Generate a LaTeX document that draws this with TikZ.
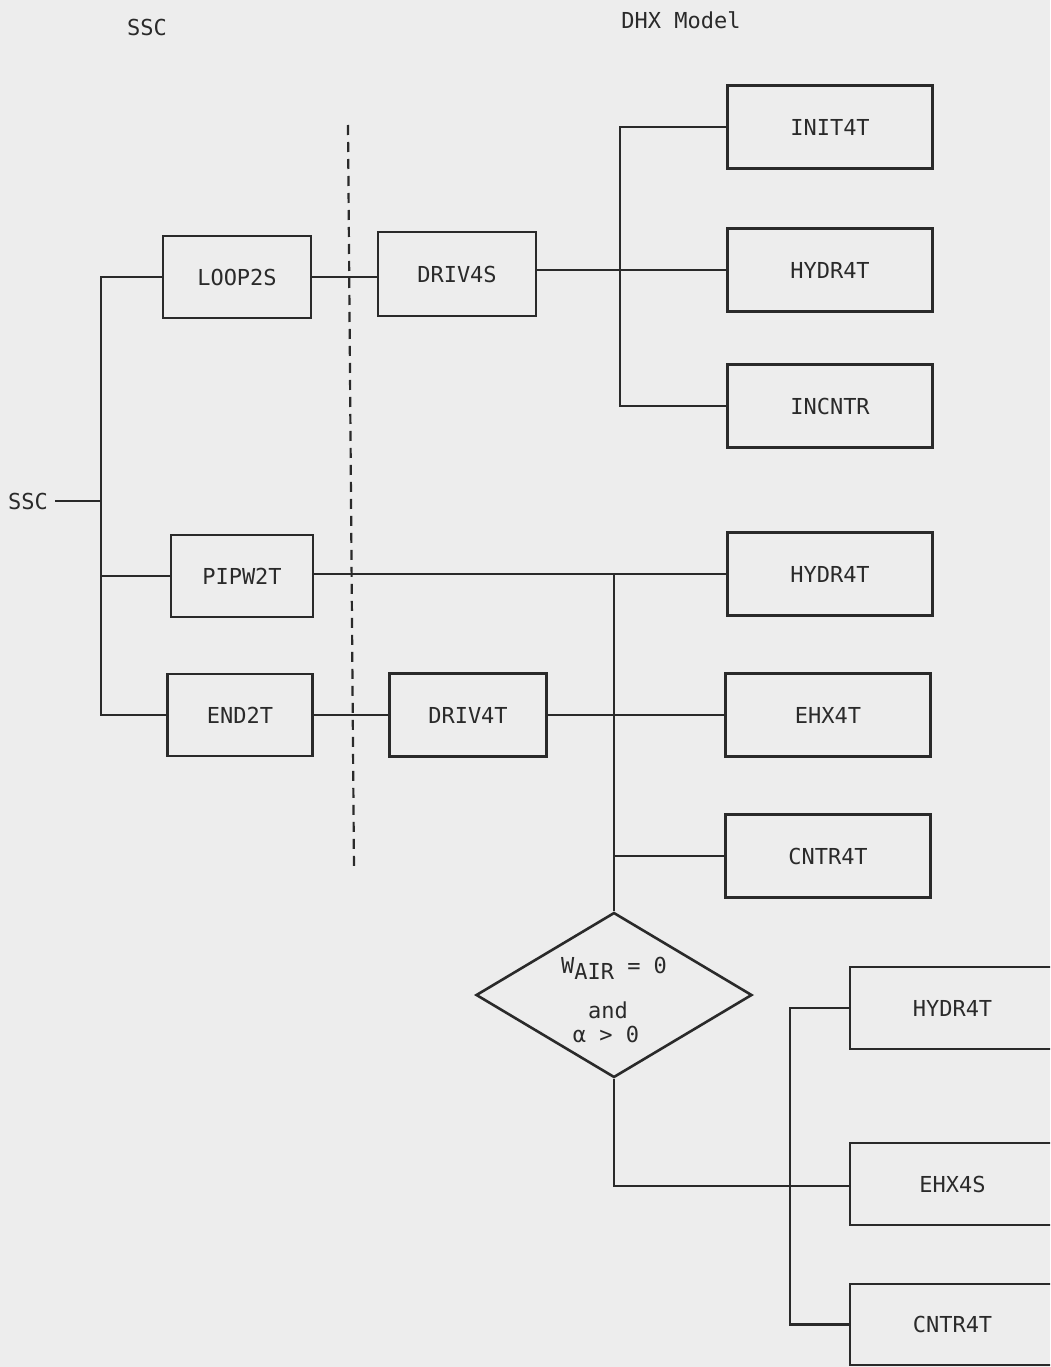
\documentclass[tikz,border=0pt]{standalone}
\usepackage{fontspec}
\setmonofont{DejaVu Sans Mono}
\usetikzlibrary{shapes.geometric}
\definecolor{ink}{HTML}{2A2A2A}
\definecolor{paper}{HTML}{EDEDED}
\begin{document}
\begin{tikzpicture}[x=1pt,y=-1pt,
  box/.style={draw=ink, line width=2.6pt, minimum width=205pt, minimum height=83pt,
    inner sep=0pt, font=\ttfamily\fontsize{22}{26}\selectfont, text=ink},
  wire/.style={draw=ink, line width=2.6pt},
  lbl/.style={font=\ttfamily\fontsize{22}{26}\selectfont, text=ink, inner sep=0pt},
  sep/.style={draw=ink, line width=2.2pt, dash pattern=on 10pt off 7pt}]
\useasboundingbox (0,0) rectangle (1050,1367);
\clip (0,0) rectangle (1050,1367);
\fill[paper] (0,0) rectangle (1050,1367);

% headings
\node[lbl] (hssc) at (147,27) {SSC};
\node[lbl] (hdhx) at (681,20) {DHX Model};

% separator
\coordinate (dtop) at (348,125);
\coordinate (dbot) at (354,870);
\draw[sep] (dtop) -- (dbot);

% left side
\node[lbl, inner xsep=7pt] (ssc) at (28,501) {SSC};
\node[box, minimum width=148pt, minimum height=82pt] (loop) at (237,277) {LOOP2S};
\node[box, minimum width=142pt, minimum height=82pt] (pipw) at (242,576) {PIPW2T};
\node[box, minimum width=145pt, minimum height=82pt] (end)  at (240,715) {END2T};
\node[box, minimum width=158pt, minimum height=84pt] (driv4s) at (457,274) {DRIV4S};
\node[box, minimum width=157pt, minimum height=83pt] (driv4t) at (468,715) {DRIV4T};

% right column
\node[box] (init)   at (830,127) {INIT4T};
\node[box] (hydra)  at (830,270) {HYDR4T};
\node[box] (incntr) at (830,406) {INCNTR};
\node[box] (hydrb)  at (830,574) {HYDR4T};
\node[box] (ehx4t)  at (828,715) {EHX4T};
\node[box] (cntra)  at (828,856) {CNTR4T};

% decision
\node[draw=ink, line width=2.6pt, diamond, minimum width=276pt, minimum height=165pt,
  inner sep=0pt] (dec) at (614,995) {};
\node[lbl] (dtxt1) at (614,968) {W\raisebox{-6pt}{AIR} = 0};
\node[lbl] (dtxt2) at (608,1010) {and};
\node[lbl] (dtxt3) at (606,1034) {α > 0};

% bottom-right boxes (cut by the page edge)
\node[box, minimum width=205pt, minimum height=82pt] (hydrc) at (952.5,1008) {HYDR4T};
\node[box, minimum width=205pt, minimum height=82pt] (ehx4s) at (952.5,1184) {EHX4S};
\node[box, minimum width=205pt, minimum height=81pt] (cntrb) at (952.5,1324.5) {CNTR4T};

% connectors - left bus
\coordinate (bt) at (101,277);
\coordinate (bb) at (101,715);
\draw[wire] (ssc.east) -- (ssc.east -| bt);
\draw[wire] (loop.west) -- (bt) -- (bb) -- (end.west);
\draw[wire] (pipw.west) -- (pipw.west -| bt);
\draw[wire] (loop.east) -- (loop.east -| driv4s.west);
\draw[wire] (end.east) -- (driv4t.west);

% upper right bus
\coordinate (rt) at (620,127);
\coordinate (rb) at (620,406);
\draw[wire] (driv4s.east |- hydra.west) -- (hydra.west);
\draw[wire] (init.west) -- (rt) -- (rb) -- (incntr.west);

% middle bus
\coordinate (mt) at (614,574);
\draw[wire] (pipw.east |- hydrb.west) -- (hydrb.west);
\draw[wire] (mt) -- (dec.north);
\draw[wire] (driv4t.east) -- (ehx4t.west);
\draw[wire] (cntra.west) -- (cntra.west -| mt);

% lower bus
\coordinate (lj) at (614,1186);
\coordinate (lt) at (790,1008);
\coordinate (lb) at (790,1324.5);
\draw[wire] (dec.south) -- (lj) -- (lj -| ehx4s.west);
\draw[wire] (hydrc.west) -- (lt) -- (lb) -- (cntrb.west);
\end{tikzpicture}
\end{document}
